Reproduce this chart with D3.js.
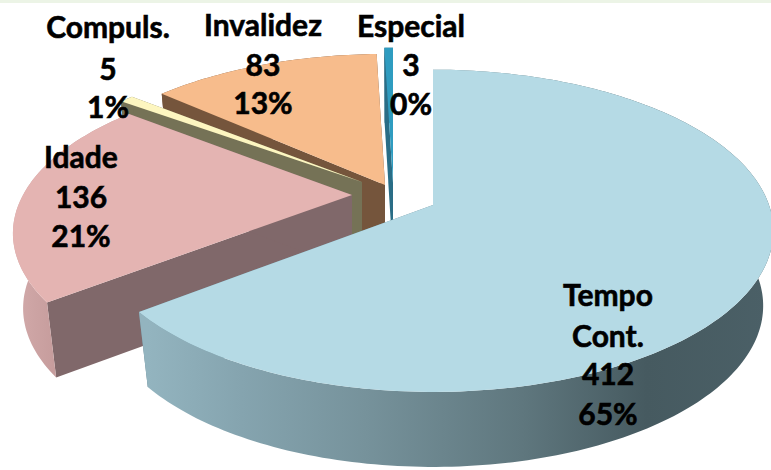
<!DOCTYPE html>
<html>
<head>
<meta charset="utf-8">
<script src="https://cdn.jsdelivr.net/npm/d3@7"></script>
<style>
    html, body { margin: 0; padding: 0; background: #fff; }
    svg { display: block; }
</style>
</head>
<body>
<div id="chart"></div>
<script>
// data
const categories = ['Tempo Cont.', 'Idade', 'Compuls.', 'Invalidez', 'Especial'];
const values = [412, 136, 5, 83, 3];
const percents = ['65%', '21%', '1%', '13%', '0%'];

const width = 771;
const height = 470;

// look of each slice, same order as categories
const apex = [[433, 205], [352, 195], [362, 182], [385, 185], [393, 183]];
const radiusX = [336, 329, 340, 330, 340];
const radiusY = [157, 149, 142, 152, 157];
const persp = [0.16, 0.242, 0.16, 0.16, 0.16];
const topColors = ['#b5dae5', '#e4b4b2', '#fdf6c0', '#f7bc8c', '#2f9cc0'];
const sideColors = ['#64838f', '#80686a', '#757256', '#75553c', '#2a6d86'];
const rimFills = ['url(#rimTempo)', 'url(#rimIdade)', '#757256', '#75553c', '#2a6d86'];
// label anchor + baselines per line
const labelX = [608, 81, 108, 263, 411];
const labelY = [[306, 347, 385, 425], [168, 208, 247], [38, 80, 118], [36, 76, 114], [37, 76, 115]];
const labelLines = [
    ['Tempo', 'Cont.', values[0], percents[0]],
    ['Idade', values[1], percents[1]],
    ['Compuls.', values[2], percents[2]],
    ['Invalidez', values[3], percents[3]],
    ['Especial', values[4], percents[4]]
];

const depth = 75;
const depthShrink = 0.97;

// disc projection, a little perspective so the front is bigger than the back
function project(i, angle, lower) {
    const p = 1 / (1 + persp[i] * Math.cos(angle));
    const s = lower ? depthShrink : 1;
    return [
        apex[i][0] + radiusX[i] * Math.sin(angle) * p * s,
        apex[i][1] - radiusY[i] * Math.cos(angle) * p + (lower ? depth : 0)
    ];
}

function sweep(a0, a1) {
    const n = Math.max(2, Math.ceil((a1 - a0) / 0.02));
    return d3.range(n + 1).map(k => a0 + (a1 - a0) * k / n);
}

const line = d3.line();
const svg = d3.select('#chart').append('svg')
    .attr('width', width)
    .attr('height', height)
    .attr('viewBox', [0, 0, width, height]);

const defs = svg.append('defs');

function addGradient(id, x1, x2, stops) {
    const g = defs.append('linearGradient')
        .attr('id', id)
        .attr('gradientUnits', 'userSpaceOnUse')
        .attr('x1', x1).attr('x2', x2)
        .attr('y1', 0).attr('y2', 0);
    stops.forEach(([o, c]) => g.append('stop').attr('offset', o).attr('stop-color', c));
}

addGradient('rimTempo', 148, 771, [
    [0, '#93b4bf'], [0.15, '#85a4af'], [0.35, '#76929b'],
    [0.6, '#5f777e'], [0.8, '#465a60'], [1, '#4b6067']
]);
addGradient('rimIdade', 12, 62, [[0, '#d3abab'], [1, '#c49a9a']]);

svg.append('rect')
    .attr('width', width)
    .attr('height', 3)
    .attr('fill', '#ecf4e6');

const arcs = d3.pie().sort(null).value(d => d)(values);

// back to front
const order = [4, 3, 2, 1, 0];

const slices = svg.append('g').selectAll('g')
    .data(order.map(i => ({ i, arc: arcs[i] })))
    .join('g');

slices.each(function ({ i, arc }) {
    const g = d3.select(this);
    const a0 = arc.startAngle;
    const a1 = arc.endAngle;
    const c = apex[i];
    const cLow = [c[0], c[1] + depth];

    // two straight cut faces
    [a0, a1].forEach(a => {
        g.append('path')
            .attr('fill', sideColors[i])
            .attr('d', line([c, project(i, a, false), project(i, a, true), cLow]) + 'Z');
    });

    // curved outer wall
    const angles = sweep(a0, a1);
    g.append('path')
        .attr('fill', rimFills[i])
        .attr('d', line(angles.map(a => project(i, a, false))
            .concat(angles.slice().reverse().map(a => project(i, a, true)))) + 'Z');

    // top face
    g.append('path')
        .attr('fill', topColors[i])
        .attr('d', line([c].concat(angles.map(a => project(i, a, false)))) + 'Z');
});

const labels = svg.append('g')
    .attr('font-family', 'Lato, "Open Sans", sans-serif')
    .attr('font-weight', 700)
    .attr('font-size', 30)
    .attr('fill', '#000')
    .attr('stroke', '#000')
    .attr('stroke-width', 0.6)
    .attr('text-anchor', 'middle');

categories.forEach((name, i) => {
    labels.append('g')
        .attr('class', 'label')
        .selectAll('text')
        .data(labelLines[i])
        .join('text')
        .attr('x', labelX[i])
        .attr('y', (d, k) => labelY[i][k])
        .text(d => d);
});
</script>
</body>
</html>
